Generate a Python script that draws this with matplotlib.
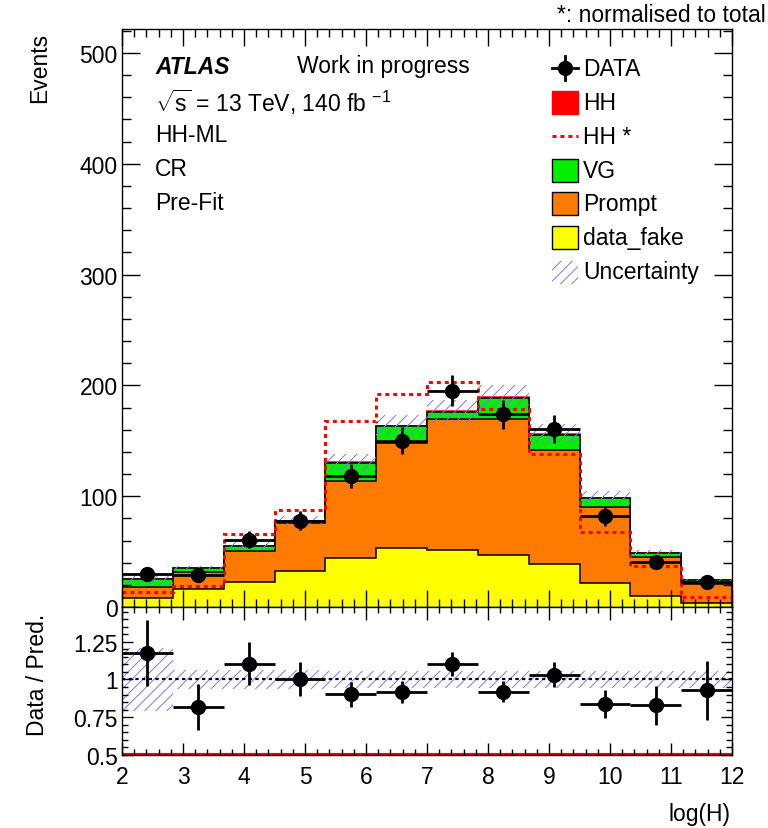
import numpy as np
import matplotlib
matplotlib.use('Agg')
import matplotlib.pyplot as plt
from matplotlib.patches import Rectangle
from matplotlib.lines import Line2D
from matplotlib.ticker import MultipleLocator, FixedLocator, FuncFormatter

plt.rcParams['font.family'] = ['Liberation Sans', 'DejaVu Sans']
plt.rcParams['mathtext.fontset'] = 'custom'
plt.rcParams['mathtext.rm'] = 'Liberation Sans'
plt.rcParams['mathtext.it'] = 'Liberation Sans:italic'
plt.rcParams['hatch.linewidth'] = 0.7

# ---------------- data ----------------
bin_edges = [2.0, 2.8333, 3.6667, 4.5, 5.3333, 6.1667, 7.0, 7.8333, 8.6667, 9.5, 10.3333, 11.1667, 12.0]
data_fake = [8.1, 16.2, 22.9, 32.2, 44.5, 53.0, 51.4, 46.9, 38.8, 21.7, 9.6, 3.6]
prompt = [9.6, 15.7, 27.9, 43.6, 69.5, 95.0, 118.3, 123.1, 102.9, 68.3, 35.2, 17.6]
vg = [7.6, 3.3, 4.0, 1.5, 16.0, 15.0, 6.0, 19.0, 13.5, 8.4, 3.6, 2.8]
hh = [0.05, 0.08, 0.25, 0.35, 0.65, 0.75, 0.8, 0.7, 0.55, 0.27, 0.15, 0.04]
hh_norm = [13.2, 18.7, 65.9, 87.5, 168.0, 192.0, 203.0, 178.7, 138.0, 68.0, 37.3, 9.0]
data = [29.8, 28.9, 60.8, 78.0, 118.0, 150.0, 195.0, 174.0, 160.6, 82.4, 40.3, 22.3]
data_err = [5.5, 5.4, 7.8, 8.8, 10.9, 12.2, 14.0, 13.2, 12.7, 9.1, 6.3, 4.7]
rel_unc = [0.21, 0.06, 0.06, 0.06, 0.058, 0.058, 0.058, 0.058, 0.058, 0.058, 0.058, 0.058]

edges = np.array(bin_edges)
centers = 0.5 * (edges[:-1] + edges[1:])
halfw = 0.5 * (edges[1:] - edges[:-1])
c1 = np.array(data_fake)
c2 = c1 + np.array(prompt)
c3 = c2 + np.array(vg)
c4 = c3 + np.array(hh)
total = c4
unc = np.array(rel_unc)
d = np.array(data)
de = np.array(data_err)

C_RED = '#ff0000'
C_GREEN = '#00ee00'
C_ORANGE = '#ff7a00'
C_YELLOW = '#ffff00'
C_HATCH = '#7878ff'
HATCH = '///'
FS = 16.5

W, H = 768, 829
fig = plt.figure(figsize=(W / 100, H / 100), dpi=100)

def fx(px):
    return px / W

def fy(py):
    return 1 - py / H

ax = fig.add_axes([fx(122), fy(608), fx(732) - fx(122), fy(29.5) - fy(608)])
rax = fig.add_axes([fx(122), fy(756), fx(732) - fx(122), fy(608) - fy(756)])

# ---------------- main panel ----------------
for vals, col, ec in [(c4, C_RED, C_RED), (c3, C_GREEN, 'k'), (c2, C_ORANGE, 'k'), (c1, C_YELLOW, 'k')]:
    ax.stairs(vals, edges, baseline=0, fill=True, facecolor=col, edgecolor='none', lw=0)
    ax.stairs(vals, edges, baseline=0, fill=False, color=ec, lw=1.1)

ax.stairs(total * (1 + unc), edges, baseline=total * (1 - unc), fill=True,
          facecolor='none', edgecolor=C_HATCH, hatch=HATCH, lw=0)
ax.stairs(hh_norm, edges, baseline=None, color=C_RED, lw=2.2, linestyle=(0, (1.3, 1.3)))
ax.errorbar(centers, d, yerr=de, xerr=halfw, fmt='o', color='k', ms=10, lw=2, capsize=0, zorder=5)

ax.set_xlim(2, 12)
ax.set_ylim(0, 522)
ax.xaxis.set_major_locator(MultipleLocator(1))
ax.xaxis.set_minor_locator(MultipleLocator(0.2))
ax.yaxis.set_major_locator(MultipleLocator(100))
ax.yaxis.set_minor_locator(MultipleLocator(20))
ax.tick_params(which='both', direction='in', top=True, right=True, labelbottom=False,
               labelsize=FS, width=1)
ax.tick_params(axis='y', which='major', length=13, pad=3)
ax.tick_params(axis='y', which='minor', length=6.5)
ax.tick_params(axis='x', which='major', length=12)
ax.tick_params(axis='x', which='minor', length=6)

# ---------------- ratio panel ----------------
rax.stairs(1 + unc, edges, baseline=1 - unc, fill=True, facecolor='none',
           edgecolor=C_HATCH, hatch=HATCH, lw=0)
rax.axhline(1, color='k', lw=1.6, linestyle=(0, (1.5, 1.5)))
rax.axhline(0.5, color='#ee0000', lw=3, zorder=1)
rax.errorbar(centers, d / total, yerr=de / total, xerr=halfw, fmt='o', color='k',
             ms=10, lw=2, capsize=0, zorder=5)
rax.set_xlim(2, 12)
rax.set_ylim(0.5, 1.48)
rax.xaxis.set_major_locator(MultipleLocator(1))
rax.xaxis.set_minor_locator(MultipleLocator(0.2))
rax.yaxis.set_major_locator(FixedLocator([0.5, 0.75, 1.0, 1.25]))
rax.yaxis.set_minor_locator(MultipleLocator(0.05))
rax.yaxis.set_major_formatter(FuncFormatter(lambda v, p: '%g' % v))
rax.tick_params(which='both', direction='in', top=True, right=True, labelsize=FS, width=1)
rax.tick_params(axis='y', which='major', length=8, pad=3)
rax.tick_params(axis='y', which='minor', length=4)
rax.tick_params(axis='x', which='major', length=9, pad=7)
rax.tick_params(axis='x', which='minor', length=4.5)

for a in (ax, rax):
    for s in a.spines.values():
        s.set_linewidth(1)

# ---------------- texts ----------------
fig.text(fx(40), fy(33), 'Events', rotation=90, ha='center', va='top', fontsize=FS)
fig.text(fx(38), fy(675), 'Data / Pred.', rotation=90, ha='center', va='center', fontsize=FS)
fig.text(fx(731), fy(815), 'log(H)', ha='right', va='center', fontsize=FS)
fig.text(fx(766), fy(15), '*: normalised to total', ha='right', va='center', fontsize=FS)
fig.text(fx(155), fy(67), 'ATLAS', ha='left', va='center', fontsize=FS, fontweight='bold', style='italic')
fig.text(fx(297), fy(67), 'Work in progress', ha='left', va='center', fontsize=FS)
fig.text(fx(155), fy(102), r'$\sqrt{\mathrm{s}}$ = 13 TeV, 140 fb $^{-1}$', ha='left', va='center', fontsize=FS)
fig.text(fx(155), fy(135), 'HH-ML', ha='left', va='center', fontsize=FS)
fig.text(fx(155), fy(169), 'CR', ha='left', va='center', fontsize=FS)
fig.text(fx(155), fy(203), 'Pre-Fit', ha='left', va='center', fontsize=FS)

# ---------------- legend ----------------
leg_labels = ['DATA', 'HH', 'HH *', 'VG', 'Prompt', 'data_fake', 'Uncertainty']
leg_rows = [69, 103, 137, 171, 204, 238, 273]
bx0, bx1 = 552, 578
bh = 23
for lab, row in zip(leg_labels, leg_rows):
    fig.text(fx(583), fy(row), lab, ha='left', va='center', fontsize=FS)

# DATA symbol
fig.add_artist(Line2D([fx(bx0), fx(bx1)], [fy(69), fy(69)], color='k', lw=2, transform=fig.transFigure))
fig.add_artist(Line2D([fx(565), fx(565)], [fy(57), fy(81)], color='k', lw=2, transform=fig.transFigure))
fig.add_artist(Line2D([fx(565)], [fy(69)], color='k', marker='o', ms=10, transform=fig.transFigure))

def box(row, fc, ec='k', lw=1.0, hatch=None):
    fig.add_artist(Rectangle((fx(bx0), fy(row + bh / 2)), fx(bx1) - fx(bx0), fy(row - bh / 2) - fy(row + bh / 2),
                             facecolor=fc, edgecolor=ec, lw=lw, hatch=hatch, transform=fig.transFigure))

box(103, C_RED, ec=C_RED)
fig.add_artist(Line2D([fx(bx0), fx(bx1)], [fy(137), fy(137)], color=C_RED, lw=2.2,
                      linestyle=(0, (1.3, 1.3)), transform=fig.transFigure))
box(171, C_GREEN)
box(204, C_ORANGE)
box(238, C_YELLOW)
box(273, 'none', ec=C_HATCH, lw=0, hatch=HATCH)

fig.savefig('out.png', dpi=100)
